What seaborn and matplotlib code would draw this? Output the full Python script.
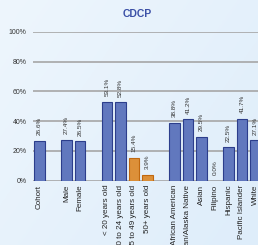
import numpy as np
import pandas as pd
import seaborn as sns
import matplotlib
matplotlib.use("Agg")
import matplotlib.pyplot as plt

# data
categories = ['Cohort', 'Male', 'Female',
              '< 20 years old', '20 to 24 years old', '25 to 49 years old', '50+ years old',
              'African American', 'American Indian/Alaska Native', 'Asian', 'Filipino',
              'Hispanic', 'Pacific Islander', 'White']
values = [26.6, 27.4, 26.5, 53.1, 52.8, 15.4, 3.9, 38.8, 41.2, 29.5, 0.0, 22.5, 41.7, 27.1]
groups = ['blue', 'blue', 'blue', 'blue', 'blue', 'orange', 'orange',
          'blue', 'blue', 'blue', 'blue', 'blue', 'blue', 'blue']
# empty slots between the category groups
order = ['Cohort', ' ', 'Male', 'Female', '  ',
         '< 20 years old', '20 to 24 years old', '25 to 49 years old', '50+ years old', '   ',
         'African American', 'American Indian/Alaska Native', 'Asian', 'Filipino',
         'Hispanic', 'Pacific Islander', 'White']

df = pd.DataFrame({'cat': categories, 'val': values, 'grp': groups})

sns.set_theme(style="white")
plt.rcParams['font.family'] = ['Liberation Sans', 'DejaVu Sans']

fig = plt.figure(figsize=(2.58, 2.45), dpi=100)
bg = fig.add_axes([0, 0, 1, 1], zorder=-10)
grad = np.linspace(0, 1, 200)[None, :] * 0.6 + np.linspace(0, 1, 200)[:, None] * 0.4
bg.imshow(grad, cmap=matplotlib.colors.LinearSegmentedColormap.from_list(
    'bg', ['#eef6fd', '#deedfa']), aspect='auto', extent=[0, 1, 0, 1])
bg.axis('off')

ax = fig.add_axes([33.4 / 258, 1 - 180.5 / 245, 1 - 33.4 / 258, (180.5 - 32) / 245])
ax.patch.set_alpha(0)

sns.barplot(data=df, x='cat', y='val', hue='grp', order=order,
            palette={'blue': '#5270cd', 'orange': '#f7921e'},
            dodge=False, legend=False, width=0.8, ax=ax, zorder=3)

for c in ax.containers:
    for p in c:
        if p.get_facecolor()[0] > 0.8:
            p.set_edgecolor('#c0680f')
        else:
            p.set_edgecolor('#2c3e8c')
        p.set_linewidth(0.8)
    ax.bar_label(c, fmt='%.1f%%', rotation=90, padding=4, fontsize=4.6, color='#333333')

ax.set_xlim(-0.45, 16.19)
ax.set_ylim(0, 100)
ax.set_yticks([0, 20, 40, 60, 80, 100])
ax.set_yticklabels([f'{t}%' for t in [0, 20, 40, 60, 80, 100]])
ax.yaxis.grid(True, color='#a6a6a6', linewidth=1.2, zorder=0)
ax.set_axisbelow(True)
for s in ax.spines.values():
    s.set_visible(False)
ax.tick_params(axis='y', length=0, labelsize=5, colors='#333333', pad=5)
ax.tick_params(axis='x', length=0, labelsize=5.8, colors='#222222', pad=3)
plt.setp(ax.get_xticklabels(), rotation=90, va='top', ha='center')
ax.set_xlabel('')
ax.set_ylabel('')

fig.text(137 / 258, 1 - 14 / 245, 'CDCP', ha='center', va='center',
         fontsize=7.5, fontweight='bold', color='#3a4fa6')

fig.savefig('out.png', dpi=100)
